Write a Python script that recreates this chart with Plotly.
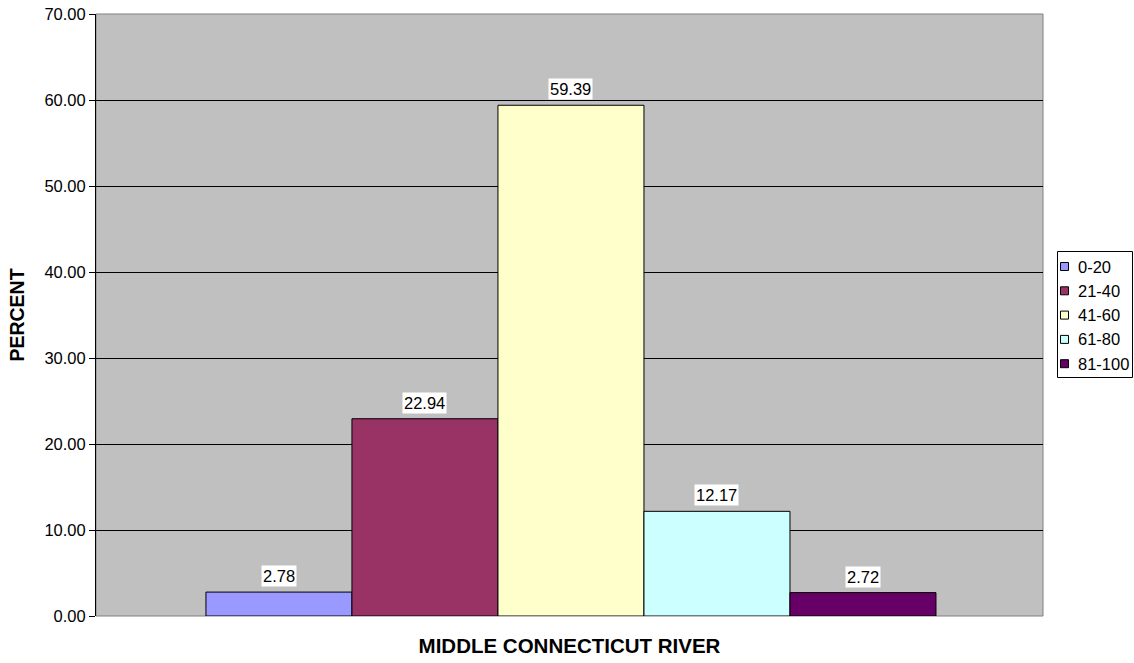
import plotly.graph_objects as go

categories = ["0-20", "21-40", "41-60", "61-80", "81-100"]
values = [2.78, 22.94, 59.39, 12.17, 2.72]
colors = ["#9999FF", "#993366", "#FFFFCC", "#CCFFFF", "#660066"]
x_title = "MIDDLE CONNECTICUT RIVER"
y_title = "PERCENT"
y_ticks = [0, 10, 20, 30, 40, 50, 60, 70]

FONT = "Liberation Sans, Arial, sans-serif"
W, H = 1134, 663
# plot area in page pixels: x 96..1043, y 14..616
ML, MT = 96, 14
MR, MB = W - 1043, H - 616
PW, PH = W - ML - MR, H - MT - MB


def px_x(px):
    return (px - ML) / PW


def px_y(py):
    return (H - MB - py) / PH


fig = go.Figure()
for i, (c, v, col) in enumerate(zip(categories, values, colors)):
    fig.add_trace(go.Bar(
        x=[i], y=[v], name=c, width=1,
        marker=dict(color=col, line=dict(color="black", width=1)),
        showlegend=False, hoverinfo="skip",
    ))
    fig.add_annotation(
        x=i, y=v, text=f"{v:.2f}", showarrow=False,
        yanchor="bottom", yshift=5, bgcolor="white",
        font=dict(family=FONT, size=16.5, color="black"), borderpad=1,
    )

# manual legend (Excel style)
fig.add_shape(type="rect", xref="paper", yref="paper",
              x0=px_x(1057.5), x1=px_x(1132.5), y0=px_y(377.5), y1=px_y(251.5),
              line=dict(color="black", width=1), fillcolor="white")
for k, (c, col) in enumerate(zip(categories, colors)):
    cy = 266.5 + k * 24.3
    fig.add_shape(type="rect", xref="paper", yref="paper",
                  x0=px_x(1060.5), x1=px_x(1068.5), y0=px_y(cy + 4), y1=px_y(cy - 4),
                  line=dict(color="black", width=1), fillcolor=col)
    fig.add_annotation(xref="paper", yref="paper", x=px_x(1076), y=px_y(cy),
                       xanchor="left", yanchor="middle", text=c, showarrow=False,
                       font=dict(family=FONT, size=16.5, color="black"))

fig.update_layout(
    width=W, height=H,
    margin=dict(l=ML, r=MR, t=MT, b=MB, autoexpand=False),
    paper_bgcolor="white", plot_bgcolor="#C0C0C0",
    font=dict(family=FONT, size=16.5, color="black"),
    barmode="overlay",
    showlegend=False,
    hovermode=False,
    xaxis=dict(
        range=[-1.253, 5.233], showticklabels=False, showgrid=False,
        zeroline=False, ticks="", fixedrange=True, automargin=False,
        title=dict(text=f"<b>{x_title}</b>", font=dict(size=20.5), standoff=22),
    ),
    yaxis=dict(
        range=[0, 70], tickvals=y_ticks, ticktext=[f"{t:.2f}" for t in y_ticks],
        showgrid=True, gridcolor="black", gridwidth=1, automargin=False,
        zeroline=False, showline=True, linecolor="black", linewidth=1,
        ticks="outside", ticklen=6, tickcolor="black", fixedrange=True,
        tickfont=dict(size=16.5), ticklabeloverflow="allow",
        title=dict(text=f"<b>{y_title}</b>", font=dict(size=19.5), standoff=14),
    ),
)
fig.add_shape(type="rect", xref="paper", yref="paper", x0=0, x1=1, y0=0, y1=1,
              line=dict(color="#808080", width=1), layer="below")

fig.write_html(
    "out.html",
    config={"displayModeBar": False},
    post_script="document.body.style.margin='0';document.body.style.overflow='hidden';",
)
